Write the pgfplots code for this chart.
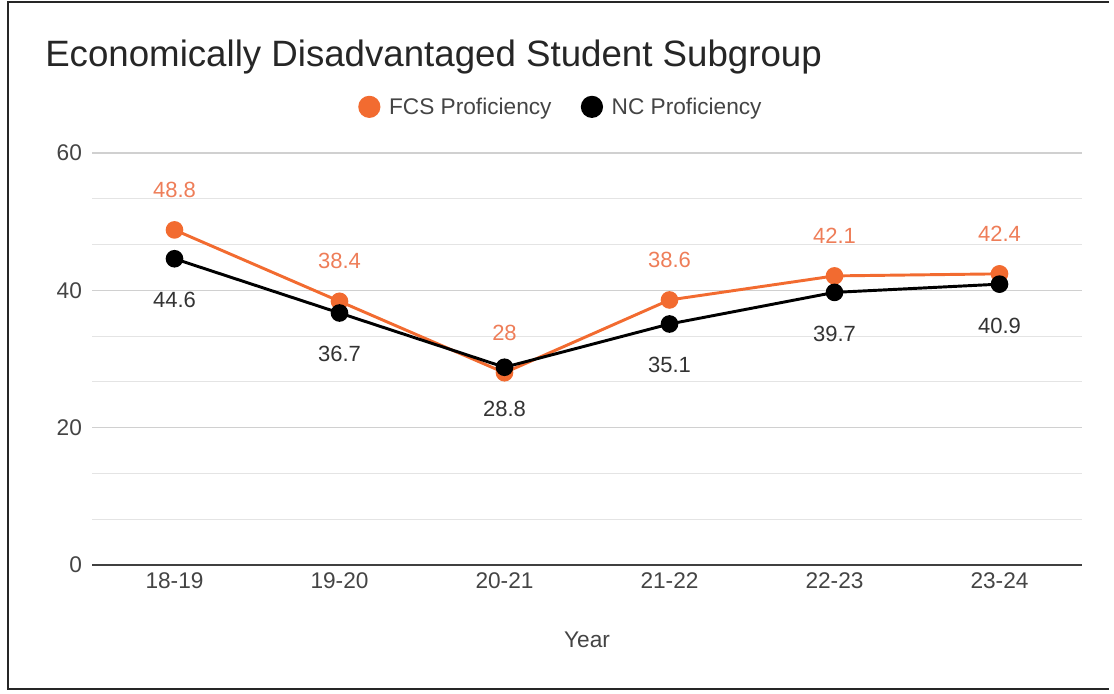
\documentclass[border=0pt]{standalone}
\usepackage{pgfplots}
\pgfplotsset{compat=1.18}
\usepackage{fontspec}
\setmainfont{Liberation Sans}
\definecolor{fcs}{HTML}{F26B30}
\definecolor{fcslab}{HTML}{EE7D58}
\definecolor{tickc}{HTML}{444444}
\definecolor{gridc}{HTML}{D0D0D0}
\definecolor{minorc}{HTML}{E4E4E4}
\begin{document}
\begin{tikzpicture}
\path (0,0) rectangle (835.5pt,519.75pt);
\draw[line width=1.5pt, color=black!85] (831.75pt,518.25pt) -- (6pt,518.25pt) -- (6pt,3pt) -- (831.75pt,3pt);
\node[anchor=base west, font=\fontsize{27.5}{30}\selectfont, text=black!85, inner sep=0pt] at (33.75pt,469.5pt) {Economically Disadvantaged Student Subgroup};
\begin{axis}[
 at={(69pt,96pt)}, anchor=south west,
 scale only axis, width=742.5pt, height=309pt,
 xmin=-0.5, xmax=5.5, ymin=0, ymax=60,
 xtick={0,...,5}, xticklabels={18-19,19-20,20-21,21-22,22-23,23-24},
 ytick={0,20,40,60}, minor y tick num=2,
 major tick length=0pt, minor tick length=0pt,
 ymajorgrids, yminorgrids,
 major grid style={color=gridc, line width=0.8pt},
 minor grid style={color=minorc, line width=0.8pt},
 axis line style={draw=none},
 tick label style={font=\fontsize{17}{19}\selectfont, text=tickc},
 /pgf/number format/assume math mode=true,
 yticklabel style={xshift=-4pt},
 xticklabel style={yshift=-2pt},
 xlabel={Year},
 xlabel style={at={(axis description cs:0.5,0)}, anchor=center, yshift=-56pt, font=\fontsize{17}{19}\selectfont, text=tickc},
 legend columns=2,
 legend style={draw=none, fill=none, at={(0.474,1.112)}, anchor=center, font=\fontsize{17}{19}\selectfont, text=tickc, /tikz/every even column/.append style={column sep=20pt}},
 legend image code/.code={\fill[#1] (0,0) circle (7.2pt); \path (11.7pt,0);},
 clip=false,
]
\draw[color=black!75, line width=1.3pt] (axis cs:-0.5,0) -- (axis cs:5.5,0);
\addplot[color=fcs, line width=2.2pt, mark=*, mark size=5.5pt, nodes near coords, nodes near coords style={anchor=center, yshift=30pt, text=fcslab, font=\fontsize{16.5}{18}\selectfont}] coordinates {(0,48.8)(1,38.4)(2,28)(3,38.6)(4,42.1)(5,42.4)};
\addlegendentry{FCS Proficiency}
\addplot[color=black, line width=2.2pt, mark=*, mark size=5.5pt, nodes near coords, nodes near coords style={anchor=center, yshift=-31pt, text=black!80, font=\fontsize{16.5}{18}\selectfont}] coordinates {(0,44.6)(1,36.7)(2,28.8)(3,35.1)(4,39.7)(5,40.9)};
\addlegendentry{NC Proficiency}
\end{axis}
\end{tikzpicture}
\end{document}
